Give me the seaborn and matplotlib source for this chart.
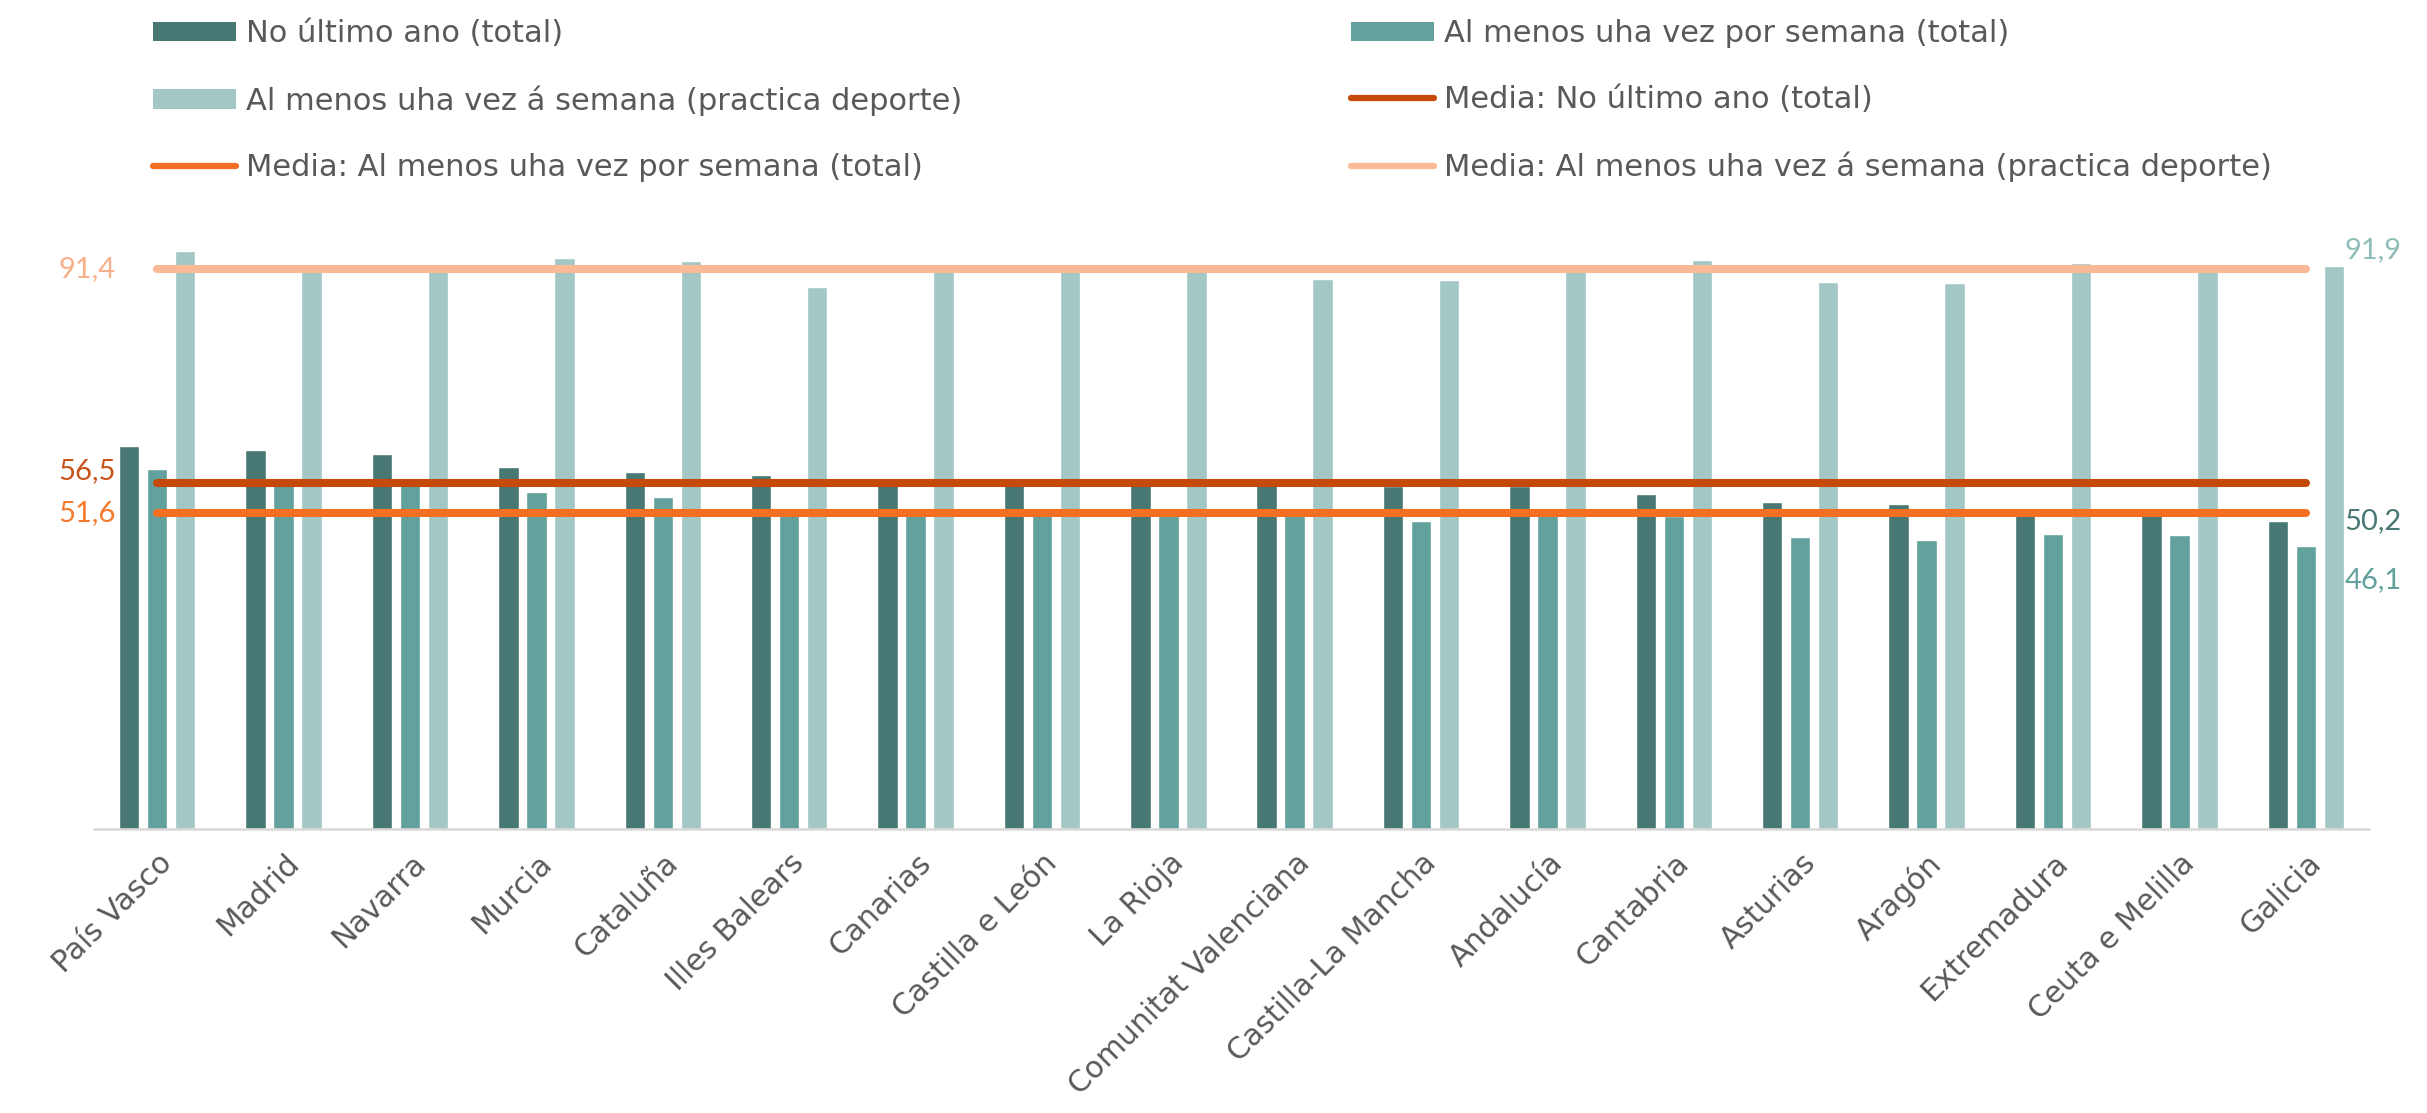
import numpy as np
import pandas as pd
import matplotlib
matplotlib.use("Agg")
import matplotlib.pyplot as plt
import matplotlib.transforms as mtransforms
import seaborn as sns
from matplotlib.patches import Patch
from matplotlib.lines import Line2D

# ---------------- data ----------------
regions = ["País Vasco", "Madrid", "Navarra", "Murcia", "Cataluña", "Illes Balears",
           "Canarias", "Castilla e León", "La Rioja", "Comunitat Valenciana",
           "Castilla-La Mancha", "Andalucía", "Cantabria", "Asturias", "Aragón",
           "Extremadura", "Ceuta e Melilla", "Galicia"]
ultimo_ano = [62.4, 61.9, 61.1, 59.1, 58.2, 57.8, 56.4, 56.3, 56.2, 56.1,
              56.0, 55.9, 54.7, 53.3, 53.0, 51.8, 51.6, 50.2]
semana_total = [58.7, 56.4, 56.3, 55.0, 54.1, 51.7, 51.5, 51.4, 51.3, 51.3,
                50.3, 51.2, 51.0, 47.6, 47.2, 48.2, 47.9, 46.1]
semana_deporte = [94.3, 91.5, 91.3, 93.2, 92.7, 88.4, 91.2, 91.1, 91.0, 89.8,
                  89.5, 91.2, 92.8, 89.2, 89.0, 92.4, 91.3, 91.9]
media_ultimo_ano = 56.5
media_semana_total = 51.6
media_semana_deporte = 91.4

series_names = ["No último ano (total)",
                "Al menos uha vez por semana (total)",
                "Al menos uha vez á semana (practica deporte)"]
media_names = ["Media: No último ano (total)",
               "Media: Al menos uha vez por semana (total)",
               "Media: Al menos uha vez á semana (practica deporte)"]

# ---------------- style ----------------
sns.set_theme(style="white")
plt.rcParams["font.family"] = ["DejaVu Sans"]

c_dark, c_mid, c_light = "#487873", "#62A19C", "#A3C7C4"
c_m1, c_m2, c_m3 = "#C54A0A", "#F56F23", "#FBBA96"
txt = "#595959"

df = pd.DataFrame({
    "region": regions * 3,
    "serie": sum([[s] * len(regions) for s in series_names], []),
    "value": ultimo_ano + semana_total + semana_deporte,
})

W, H = 2427, 1113
fig = plt.figure(figsize=(W / 100, H / 100), dpi=100)
ax = fig.add_axes([94 / W, 1 - 829 / H, 2275 / W, 613 / H])

sns.barplot(data=df, x="region", y="value", hue="serie", hue_order=series_names,
            order=regions, palette=[c_dark, c_mid, c_light], saturation=1,
            width=0.665, gap=0.27, legend=False, ax=ax, zorder=2)

n = len(regions)
xs = np.arange(n)
for m, c in [(media_semana_deporte, c_m3), (media_ultimo_ano, c_m1), (media_semana_total, c_m2)]:
    ax.plot(xs, np.full(n, m), color=c, lw=5.8, solid_capstyle="round", zorder=5)

ax.set_xlim(-0.5, n - 0.5)
ax.set_ylim(0, 100)
ax.set_xlabel("")
ax.set_ylabel("")
ax.set_yticks([])
for s in ["top", "left", "right"]:
    ax.spines[s].set_visible(False)
ax.spines["bottom"].set_color("#D9D9D9")
ax.spines["bottom"].set_linewidth(1.8)

ax.tick_params(axis="x", length=0, pad=14, labelsize=21.5, labelcolor=txt)
offset = mtransforms.ScaledTranslation(21 / 100, 0, fig.dpi_scale_trans)
for lab in ax.get_xticklabels():
    lab.set_rotation(45)
    lab.set_ha("right")
    lab.set_transform(lab.get_transform() + offset)

def fmt(v):
    return f"{v:.1f}".replace(".", ",")

num_font = ["Lato", "DejaVu Sans"]
# left mean labels
for m, c, dy in [(media_semana_deporte, "#F9B08A", 0), (media_ultimo_ano, "#C8541A", 8),
                 (media_semana_total, "#F57A2E", 0)]:
    ax.annotate(fmt(m), xy=(0, m), xytext=(-30, dy), textcoords="offset points",
                ha="right", va="center", fontsize=21, color=c, family=num_font,
                annotation_clip=False)

# right data labels for last region
last = n - 1
for v, c, dy in [(semana_deporte[last], "#8FBDB8", 11), (ultimo_ano[last], c_dark, 0),
                 (semana_total[last], c_mid, -24)]:
    ax.annotate(fmt(v), xy=(last, v), xytext=(28, dy), textcoords="offset points",
                ha="left", va="center", fontsize=21, color=c, family=num_font,
                annotation_clip=False)

# legends
def bar_h(c):
    return Patch(facecolor=c, edgecolor="none")

def line_h(c):
    return Line2D([0], [0], color=c, lw=4.5, solid_capstyle="round")

leg_kw = dict(frameon=False, fontsize=22, handlelength=2.71, handleheight=0.59,
              labelspacing=1.22, handletextpad=0.33, borderpad=0, borderaxespad=0,
              labelcolor=txt, loc="upper left")
leg1 = fig.legend(handles=[bar_h(c_dark), bar_h(c_light), line_h(c_m2)],
                  labels=[series_names[0], series_names[2], media_names[1]],
                  bbox_to_anchor=(153 / W, 1 - 19 / H), **leg_kw)
leg2 = fig.legend(handles=[bar_h(c_mid), line_h(c_m1), line_h(c_m3)],
                  labels=[series_names[1], media_names[0], media_names[2]],
                  bbox_to_anchor=(1351 / W, 1 - 19 / H), **leg_kw)

fig.savefig("out.png", dpi=100, facecolor="white")
